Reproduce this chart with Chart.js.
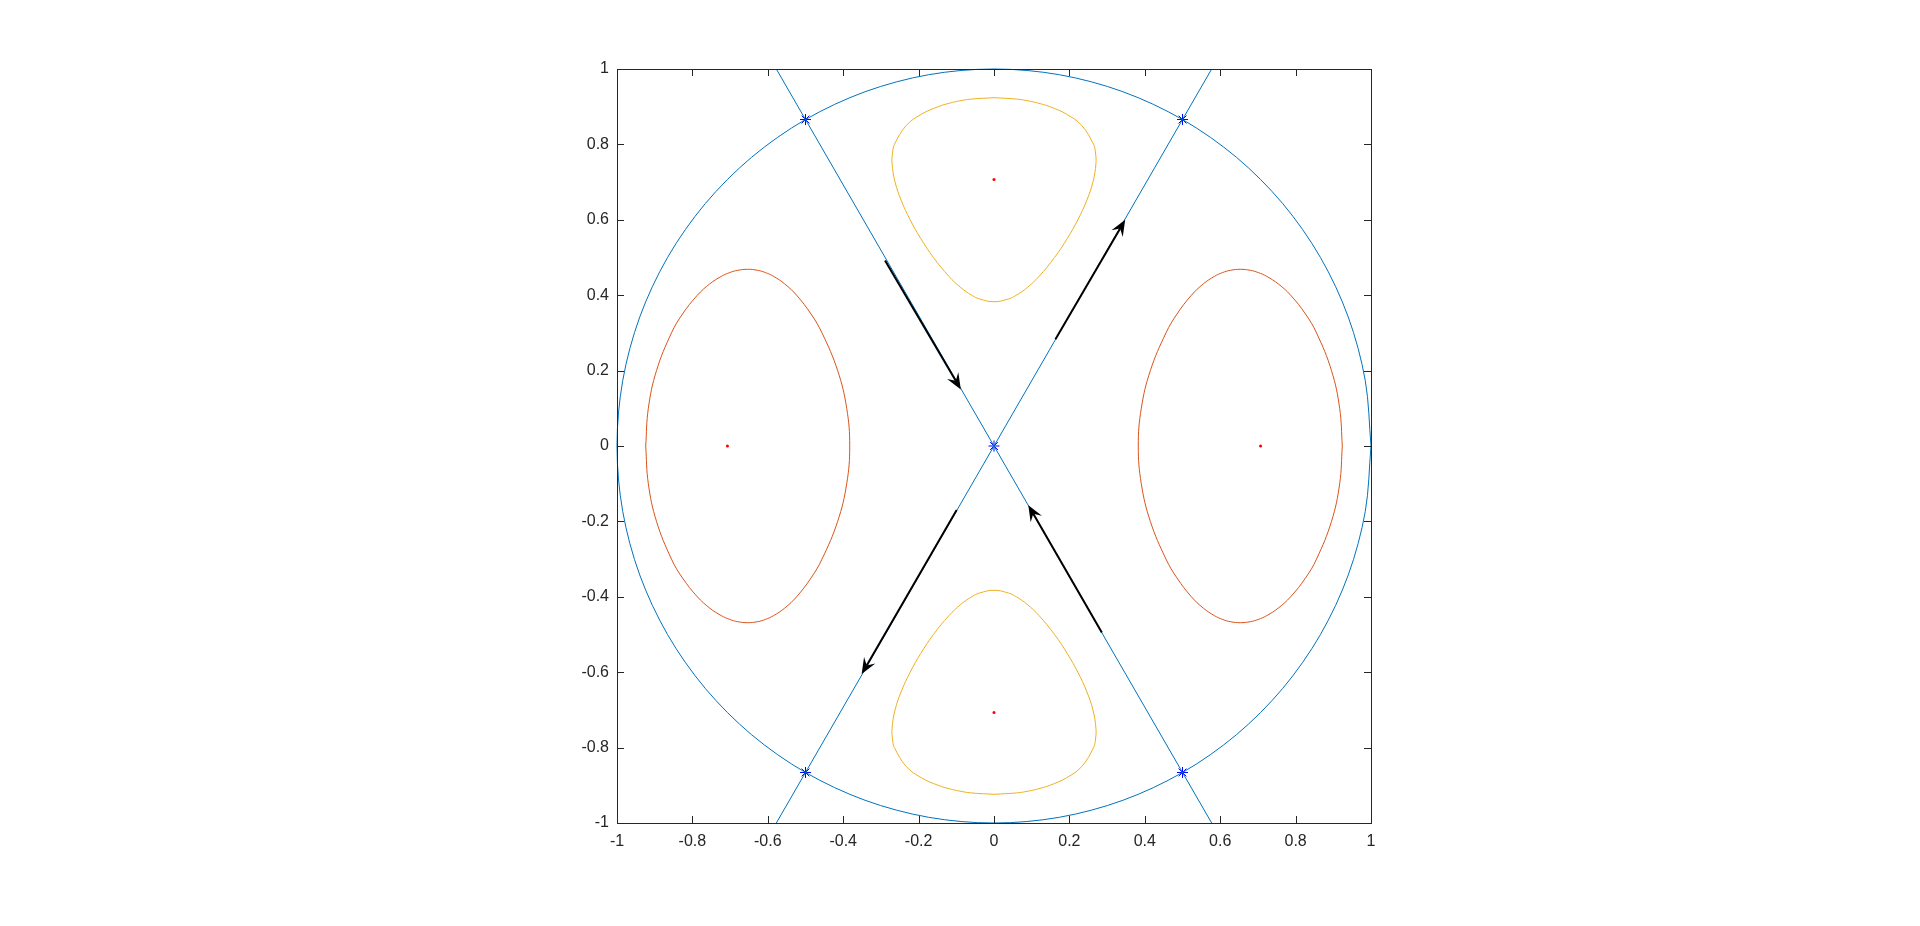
<!DOCTYPE html>
<html>
<head>
    <title>Phase portrait</title>
    <script src="https://cdn.jsdelivr.net/npm/chart.js"></script>
    <style>
        body { margin: 0; background: #fff; }
    </style>
</head>
<body>
    <canvas id="phaseChart" width="1920" height="926"></canvas>

    <script>
        // axis ticks
        const tickValues = [-1, -0.8, -0.6, -0.4, -0.2, 0, 0.2, 0.4, 0.6, 0.8, 1];
        const tickLabels = ['-1', '-0.8', '-0.6', '-0.4', '-0.2', '0', '0.2', '0.4', '0.6', '0.8', '1'];

        // unit circle (separatrix)
        const circleX = [1, 0.9848, 0.9397, 0.866, 0.766, 0.6428, 0.5, 0.342, 0.1736, 0, -0.1736, -0.342, -0.5, -0.6428, -0.766, -0.866, -0.9397, -0.9848,
            -1, -0.9848, -0.9397, -0.866, -0.766, -0.6428, -0.5, -0.342, -0.1736, 0, 0.1736, 0.342, 0.5, 0.6428, 0.766, 0.866, 0.9397, 0.9848, 1];
        const circleY = [0, 0.1736, 0.342, 0.5, 0.6428, 0.766, 0.866, 0.9397, 0.9848, 1, 0.9848, 0.9397, 0.866, 0.766, 0.6428, 0.5, 0.342, 0.1736,
            0, -0.1736, -0.342, -0.5, -0.6428, -0.766, -0.866, -0.9397, -0.9848, -1, -0.9848, -0.9397, -0.866, -0.766, -0.6428, -0.5, -0.342, -0.1736, 0];

        // straight separatrices through the origin
        const lineAX = [-0.5774, 0.5774];
        const lineAY = [1, -1];
        const lineBX = [-0.5774, 0.5774];
        const lineBY = [-1, 1];

        // orange orbits around (+-0.707, 0)
        const orangeRightX = [0.9239, 0.9169, 0.8952, 0.8555, 0.8263, 0.7868, 0.754, 0.7233, 0.701, 0.6798, 0.6533, 0.627, 0.6063, 0.5847, 0.5552, 0.5237, 0.4853, 0.4562, 0.4147, 0.3907,
            0.3827, 0.3907, 0.4147, 0.4562, 0.4853, 0.5237, 0.5552, 0.5847, 0.6063, 0.627, 0.6533, 0.6798, 0.701, 0.7233, 0.754, 0.7868, 0.8263, 0.8555, 0.8952, 0.9169, 0.9239];
        const orangeRightY = [0, 0.1, 0.2, 0.3, 0.35, 0.4, 0.43, 0.45, 0.46, 0.466, 0.4687, 0.466, 0.46, 0.45, 0.43, 0.4, 0.35, 0.3, 0.2, 0.1,
            0, -0.1, -0.2, -0.3, -0.35, -0.4, -0.43, -0.45, -0.46, -0.466, -0.4687, -0.466, -0.46, -0.45, -0.43, -0.4, -0.35, -0.3, -0.2, -0.1, 0];
        const orangeLeftX = [-0.9239, -0.9169, -0.8952, -0.8555, -0.8263, -0.7868, -0.754, -0.7233, -0.701, -0.6798, -0.6533, -0.627, -0.6063, -0.5847, -0.5552, -0.5237, -0.4853, -0.4562, -0.4147, -0.3907,
            -0.3827, -0.3907, -0.4147, -0.4562, -0.4853, -0.5237, -0.5552, -0.5847, -0.6063, -0.627, -0.6533, -0.6798, -0.701, -0.7233, -0.754, -0.7868, -0.8263, -0.8555, -0.8952, -0.9169, -0.9239];
        const orangeLeftY = [0, 0.1, 0.2, 0.3, 0.35, 0.4, 0.43, 0.45, 0.46, 0.466, 0.4687, 0.466, 0.46, 0.45, 0.43, 0.4, 0.35, 0.3, 0.2, 0.1,
            0, -0.1, -0.2, -0.3, -0.35, -0.4, -0.43, -0.45, -0.46, -0.466, -0.4687, -0.466, -0.46, -0.45, -0.43, -0.4, -0.35, -0.3, -0.2, -0.1, 0];

        // yellow orbits around (0, +-0.707)
        const yellowTopX = [0, 0.0622, 0.0932, 0.1154, 0.1483, 0.1926, 0.2329, 0.2641, 0.2689, 0.2705, 0.2624, 0.2455, 0.2224, 0.1941, 0.1606, 0.1196, 0.0879, 0.0593, 0.0384,
            0, -0.0384, -0.0593, -0.0879, -0.1196, -0.1606, -0.1941, -0.2224, -0.2455, -0.2624, -0.2705, -0.2689, -0.2641, -0.2329, -0.1926, -0.1483, -0.1154, -0.0932, -0.0622, 0];
        const yellowTopY = [0.9239, 0.92, 0.915, 0.91, 0.9, 0.88, 0.85, 0.8, 0.78, 0.75, 0.7, 0.65, 0.6, 0.55, 0.5, 0.45, 0.42, 0.4, 0.39,
            0.3827, 0.39, 0.4, 0.42, 0.45, 0.5, 0.55, 0.6, 0.65, 0.7, 0.75, 0.78, 0.8, 0.85, 0.88, 0.9, 0.91, 0.915, 0.92, 0.9239];
        const yellowBottomX = [0, 0.0622, 0.0932, 0.1154, 0.1483, 0.1926, 0.2329, 0.2641, 0.2689, 0.2705, 0.2624, 0.2455, 0.2224, 0.1941, 0.1606, 0.1196, 0.0879, 0.0593, 0.0384,
            0, -0.0384, -0.0593, -0.0879, -0.1196, -0.1606, -0.1941, -0.2224, -0.2455, -0.2624, -0.2705, -0.2689, -0.2641, -0.2329, -0.1926, -0.1483, -0.1154, -0.0932, -0.0622, 0];
        const yellowBottomY = [-0.9239, -0.92, -0.915, -0.91, -0.9, -0.88, -0.85, -0.8, -0.78, -0.75, -0.7, -0.65, -0.6, -0.55, -0.5, -0.45, -0.42, -0.4, -0.39,
            -0.3827, -0.39, -0.4, -0.42, -0.45, -0.5, -0.55, -0.6, -0.65, -0.7, -0.75, -0.78, -0.8, -0.85, -0.88, -0.9, -0.91, -0.915, -0.92, -0.9239];

        // equilibria
        const saddleX = [0, 0.5, -0.5, 0.5, -0.5];
        const saddleY = [0, 0.866, 0.866, -0.866, -0.866];
        const centerX = [0.7071, -0.7071, 0, 0];
        const centerY = [0, 0, 0.7071, -0.7071];

        // direction arrows (tail -> head)
        const arrowX0 = [-0.289, 0.163, -0.099, 0.286];
        const arrowY0 = [0.492, 0.283, -0.170, -0.495];
        const arrowX1 = [-0.088, 0.348, -0.351, 0.091];
        const arrowY1 = [0.150, 0.600, -0.605, -0.157];

        const toPoints = (xs, ys) => xs.map((x, i) => ({ x: x, y: ys[i] }));

        function curve(xs, ys, color, tension) {
            return {
                data: toPoints(xs, ys),
                showLine: true,
                borderColor: color,
                borderWidth: 1,
                pointRadius: 0,
                tension: tension,
                fill: false,
                clip: false
            };
        }

        const axisColor = '#262626';

        const frame = {
            id: 'frame',
            afterDraw(chart) {
                const c = chart.ctx;
                const a = chart.chartArea;
                const xs = chart.scales.x;
                const ys = chart.scales.y;
                const len = 7;
                c.save();
                c.strokeStyle = axisColor;
                c.lineWidth = 1;
                c.beginPath();
                tickValues.forEach(v => {
                    const px = Math.round(xs.getPixelForValue(v)) + 0.5;
                    c.moveTo(px, a.bottom); c.lineTo(px, a.bottom - len);
                    c.moveTo(px, a.top); c.lineTo(px, a.top + len);
                    const py = Math.round(ys.getPixelForValue(v)) + 0.5;
                    c.moveTo(a.left, py); c.lineTo(a.left + len, py);
                    c.moveTo(a.right, py); c.lineTo(a.right - len, py);
                });
                c.stroke();
                c.strokeRect(Math.round(a.left) + 0.5, Math.round(a.top) + 0.5, Math.round(a.right - a.left), Math.round(a.bottom - a.top));
                c.restore();
            }
        };

        const arrows = {
            id: 'arrows',
            afterDatasetsDraw(chart) {
                const c = chart.ctx;
                const xs = chart.scales.x;
                const ys = chart.scales.y;
                c.save();
                c.strokeStyle = '#000';
                c.fillStyle = '#000';
                c.lineWidth = 2;
                arrowX0.forEach((v, i) => {
                    const x0 = xs.getPixelForValue(v), y0 = ys.getPixelForValue(arrowY0[i]);
                    const x1 = xs.getPixelForValue(arrowX1[i]), y1 = ys.getPixelForValue(arrowY1[i]);
                    const ang = Math.atan2(y1 - y0, x1 - x0);
                    const ux = Math.cos(ang), uy = Math.sin(ang);
                    const hl = 16, hw = 6.5, notch = 10;
                    c.beginPath();
                    c.moveTo(x0, y0);
                    c.lineTo(x1 - ux * notch, y1 - uy * notch);
                    c.stroke();
                    c.beginPath();
                    c.moveTo(x1, y1);
                    c.lineTo(x1 - ux * hl - uy * hw, y1 - uy * hl + ux * hw);
                    c.lineTo(x1 - ux * notch, y1 - uy * notch);
                    c.lineTo(x1 - ux * hl + uy * hw, y1 - uy * hl - ux * hw);
                    c.closePath();
                    c.fill();
                });
                c.restore();
            }
        };

        const tickFont = { family: '"Liberation Sans", Arial, sans-serif', size: 16 };

        const ctx = document.getElementById('phaseChart').getContext('2d');
        new Chart(ctx, {
            type: 'scatter',
            data: {
                datasets: [
                    curve(orangeRightX, orangeRightY, '#D95319', 0.4),
                    curve(orangeLeftX, orangeLeftY, '#D95319', 0.4),
                    curve(yellowTopX, yellowTopY, '#EDB120', 0.4),
                    curve(yellowBottomX, yellowBottomY, '#EDB120', 0.4),
                    curve(circleX, circleY, '#0072BD', 0.33),
                    curve(lineAX, lineAY, '#0072BD', 0),
                    curve(lineBX, lineBY, '#0072BD', 0),
                    {
                        data: toPoints(centerX, centerY),
                        pointStyle: 'circle',
                        pointRadius: 1.5,
                        backgroundColor: '#FF0000',
                        borderColor: '#FF0000',
                        borderWidth: 0,
                        clip: false
                    },
                    {
                        data: toPoints(saddleX, saddleY),
                        pointStyle: 'star',
                        pointRadius: 5.5,
                        borderColor: '#0000FF',
                        backgroundColor: '#0000FF',
                        borderWidth: 1,
                        clip: false
                    }
                ]
            },
            options: {
                responsive: false,
                animation: false,
                devicePixelRatio: 1,
                layout: { padding: { left: 557, right: 549, top: 69, bottom: 63 } },
                plugins: {
                    legend: { display: false },
                    tooltip: { enabled: false }
                },
                scales: {
                    x: {
                        type: 'linear',
                        min: -1,
                        max: 1,
                        afterFit(s) { s.height = 40; },
                        afterBuildTicks(s) { s.ticks = tickValues.map(v => ({ value: v })); },
                        grid: { display: false, drawTicks: false },
                        border: { display: false },
                        ticks: {
                            padding: 9,
                            color: axisColor,
                            font: tickFont,
                            maxRotation: 0,
                            autoSkip: false,
                            callback: (v, i) => tickLabels[i]
                        }
                    },
                    y: {
                        type: 'linear',
                        min: -1,
                        max: 1,
                        afterFit(s) { s.width = 60; },
                        afterBuildTicks(s) { s.ticks = tickValues.map(v => ({ value: v })); },
                        grid: { display: false, drawTicks: false },
                        border: { display: false },
                        ticks: {
                            padding: 8,
                            color: axisColor,
                            font: tickFont,
                            autoSkip: false,
                            callback: (v, i) => tickLabels[i]
                        }
                    }
                }
            },
            plugins: [arrows, frame]
        });
    </script>
</body>
</html>
